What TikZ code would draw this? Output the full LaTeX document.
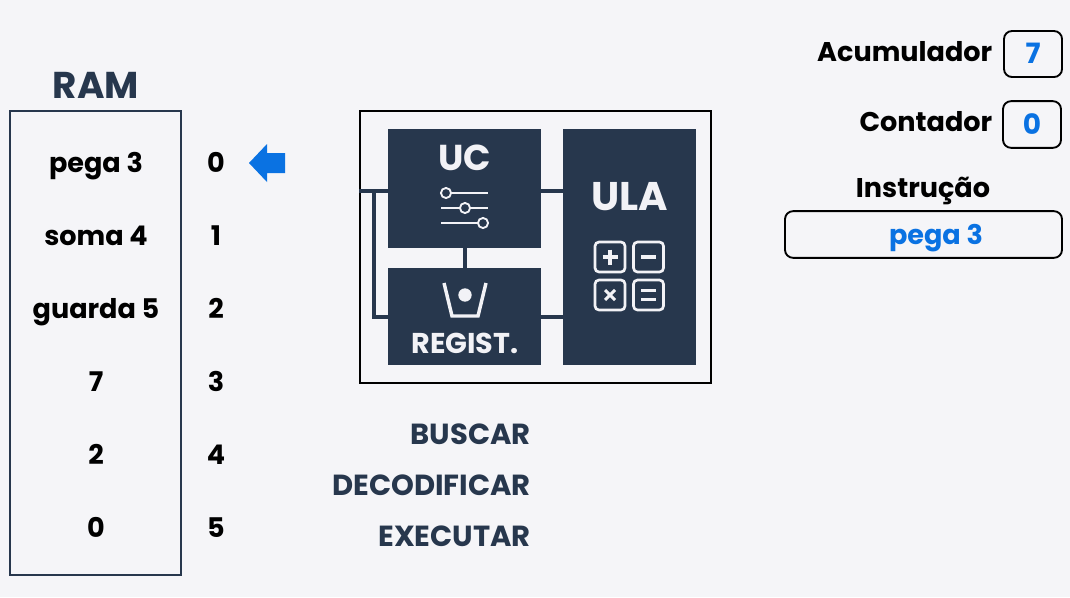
\documentclass[tikz,border=0pt]{standalone}
\usepackage{fontspec}
\setmainfont{Poppins}
\usetikzlibrary{
  arrows.meta,
  calc,
  positioning,
}
\definecolor{slate}{RGB}{39, 55, 77}
\definecolor{paper}{RGB}{245, 245, 248}
\definecolor{azure}{RGB}{10, 114, 226}
\definecolor{chalk}{RGB}{242, 242, 246}
\tikzstyle{cell} = [
  font=\fontsize{20.3}{20}\selectfont\bfseries,
  text=black,
  text height=14.4pt,
  text depth=0.4pt,
  inner sep=0pt,
]
\tikzstyle{caption} = [
  font=\fontsize{21.8}{22}\selectfont\bfseries,
  text=slate,
  anchor=east,
  text height=15pt,
  text depth=0.4pt,
  inner sep=0pt,
]
\tikzstyle{unit} = [
  fill=slate,
  text=chalk,
  inner sep=0pt,
]
\tikzstyle{wire} = [
  slate,
  line width=3pt,
]
\tikzstyle{regbox} = [
  draw=black,
  rounded corners=6pt,
  line width=1.4pt,
  inner sep=0pt,
  text=azure,
  text height=15pt,
  text depth=0.4pt,
  font=\fontsize{21}{21}\selectfont\bfseries,
]
\tikzstyle{opkey} = [
  draw=chalk,
  rounded corners=3pt,
  line width=2pt,
  minimum size=22.5pt,
  inner sep=0pt,
]
\tikzstyle{opmark} = [
  chalk,
  line width=2.3pt,
]

\begin{document}
\begin{tikzpicture}[x=0.75pt, y=-0.75pt]
      \fill [paper] (0,0) rectangle (1070,597);
      \useasboundingbox (0,0) rectangle (1070,597);

      % memory column
      \node [slate, font=\fontsize{28}{28}\selectfont\bfseries] (ramtitle) at (96,85) {RAM};
      \node [draw=slate, line width=1.5pt, minimum width=128pt, minimum height=347.5pt,
             inner sep=0pt] (ram) at (95.5,343) {};

      \node [cell] (ram0) at (96,163) {pega 3};
      \node [cell] (ram1) at (96,236) {soma 4};
      \node [cell] (ram2) at (96,309) {guarda 5};
      \node [cell] (ram3) at (96,382) {7};
      \node [cell] (ram4) at (96,455) {2};
      \node [cell] (ram5) at (96,528) {0};

      \node [cell] (addr0) at (216,163) {0};
      \node [cell] (addr1) at (216,236) {1};
      \node [cell] (addr2) at (216,309) {2};
      \node [cell] (addr3) at (216,382) {3};
      \node [cell] (addr4) at (216,455) {4};
      \node [cell] (addr5) at (216,528) {5};

      \fill [azure] (249,163) -- (267,144) -- (267,153) -- (285,153)
            -- (285,173) -- (267,173) -- (267,182) -- cycle;

      % processor
      \node [draw=black, line width=1.3pt, minimum width=263pt, minimum height=204pt,
             inner sep=0pt] (cpu) at (535.5,247) {};
      \node [unit, minimum width=114.75pt, minimum height=89.25pt] (uc) at (464.5,188.5) {};
      \node [unit, minimum width=114.75pt, minimum height=72.75pt] (regist) at (464.5,316.5) {};
      \node [unit, minimum width=99.75pt, minimum height=177pt] (ula) at (629.5,247) {};

      \coordinate (busa) at (374,191);
      \coordinate (busb) at (374,317);
      \draw [wire] (cpu.west |- busa) -- (uc.west |- busa);
      \draw [wire] (busa) -- (busb) -- (regist.west |- busb);
      \draw [wire] (uc.east |- busa) -- (ula.west |- busa);
      \draw [wire] (regist.east |- busb) -- (ula.west |- busb);
      \draw [wire] (uc) -- (regist);

      \node [text=chalk, font=\fontsize{27}{27}\selectfont\bfseries] (uclabel) at (465,158) {UC};
      \node [text=chalk, font=\fontsize{30}{30}\selectfont\bfseries] (ulalabel) at (629.5,197) {ULA};
      \node [text=chalk, font=\fontsize{21.5}{22}\selectfont\bfseries] (reglabel) at (465,343) {REGIST.};

      % sliders of the control unit
      \draw [chalk, line width=1.4pt] (441,193) -- (488,193);
      \draw [chalk, line width=1.4pt] (441,208) -- (488,208);
      \draw [chalk, line width=1.4pt] (441,223) -- (488,223);
      \draw [chalk, fill=slate, line width=1.4pt] (446,193) circle (3.8pt);
      \draw [chalk, fill=slate, line width=1.4pt] (465,208) circle (3.8pt);
      \draw [chalk, fill=slate, line width=1.4pt] (483,223) circle (3.8pt);

      % cup of the register
      \draw [chalk, line width=2.6pt] (444,283) -- (452,316) -- (478,316) -- (486,283);
      \fill [chalk] (465,295) circle (5pt);

      % keys of the arithmetic unit
      \node [opkey] (keyadd) at (610,257) {};
      \node [opkey] (keysub) at (648.5,257) {};
      \node [opkey] (keymul) at (610,295) {};
      \node [opkey] (keyeq) at (648.5,295) {};
      \draw [opmark] ($(keyadd)+(-7.5,0)$) -- ($(keyadd)+(7.5,0)$);
      \draw [opmark] ($(keyadd)+(0,-7.5)$) -- ($(keyadd)+(0,7.5)$);
      \draw [opmark] ($(keysub)+(-7.5,0)$) -- ($(keysub)+(7.5,0)$);
      \draw [opmark] ($(keymul)+(-5,-5)$) -- ($(keymul)+(5,5)$);
      \draw [opmark] ($(keymul)+(-5,5)$) -- ($(keymul)+(5,-5)$);
      \draw [opmark] ($(keyeq)+(-7.5,-4.5)$) -- ($(keyeq)+(7.5,-4.5)$);
      \draw [opmark] ($(keyeq)+(-7.5,4.5)$) -- ($(keyeq)+(7.5,4.5)$);

      % cycle steps
      \node [caption] (busca) at (531,435) {BUSCAR};
      \node [caption] (decod) at (531,486) {DECODIFICAR};
      \node [caption] (execu) at (531,537) {EXECUTAR};

      % registers
      \node [regbox, minimum width=43.5pt, minimum height=34.5pt] (acc) at (1033,54) {7};
      \node [regbox, minimum width=43.5pt, minimum height=35pt] (pc) at (1032,124.5) {0};
      \node [regbox, minimum width=207.75pt, minimum height=35pt] (instr) at (923.5,234.5) {};
      \node [cell, anchor=east] (acclabel) at (992.5,52) {Acumulador};
      \node [cell, anchor=east] (pclabel) at (992.5,122) {Contador};
      \node [cell] (instrlabel) at (923,188) {Instrução};
      \node [cell, text=azure] (instrtext) at (936,235) {pega 3};
    \end{tikzpicture}
\end{document}
